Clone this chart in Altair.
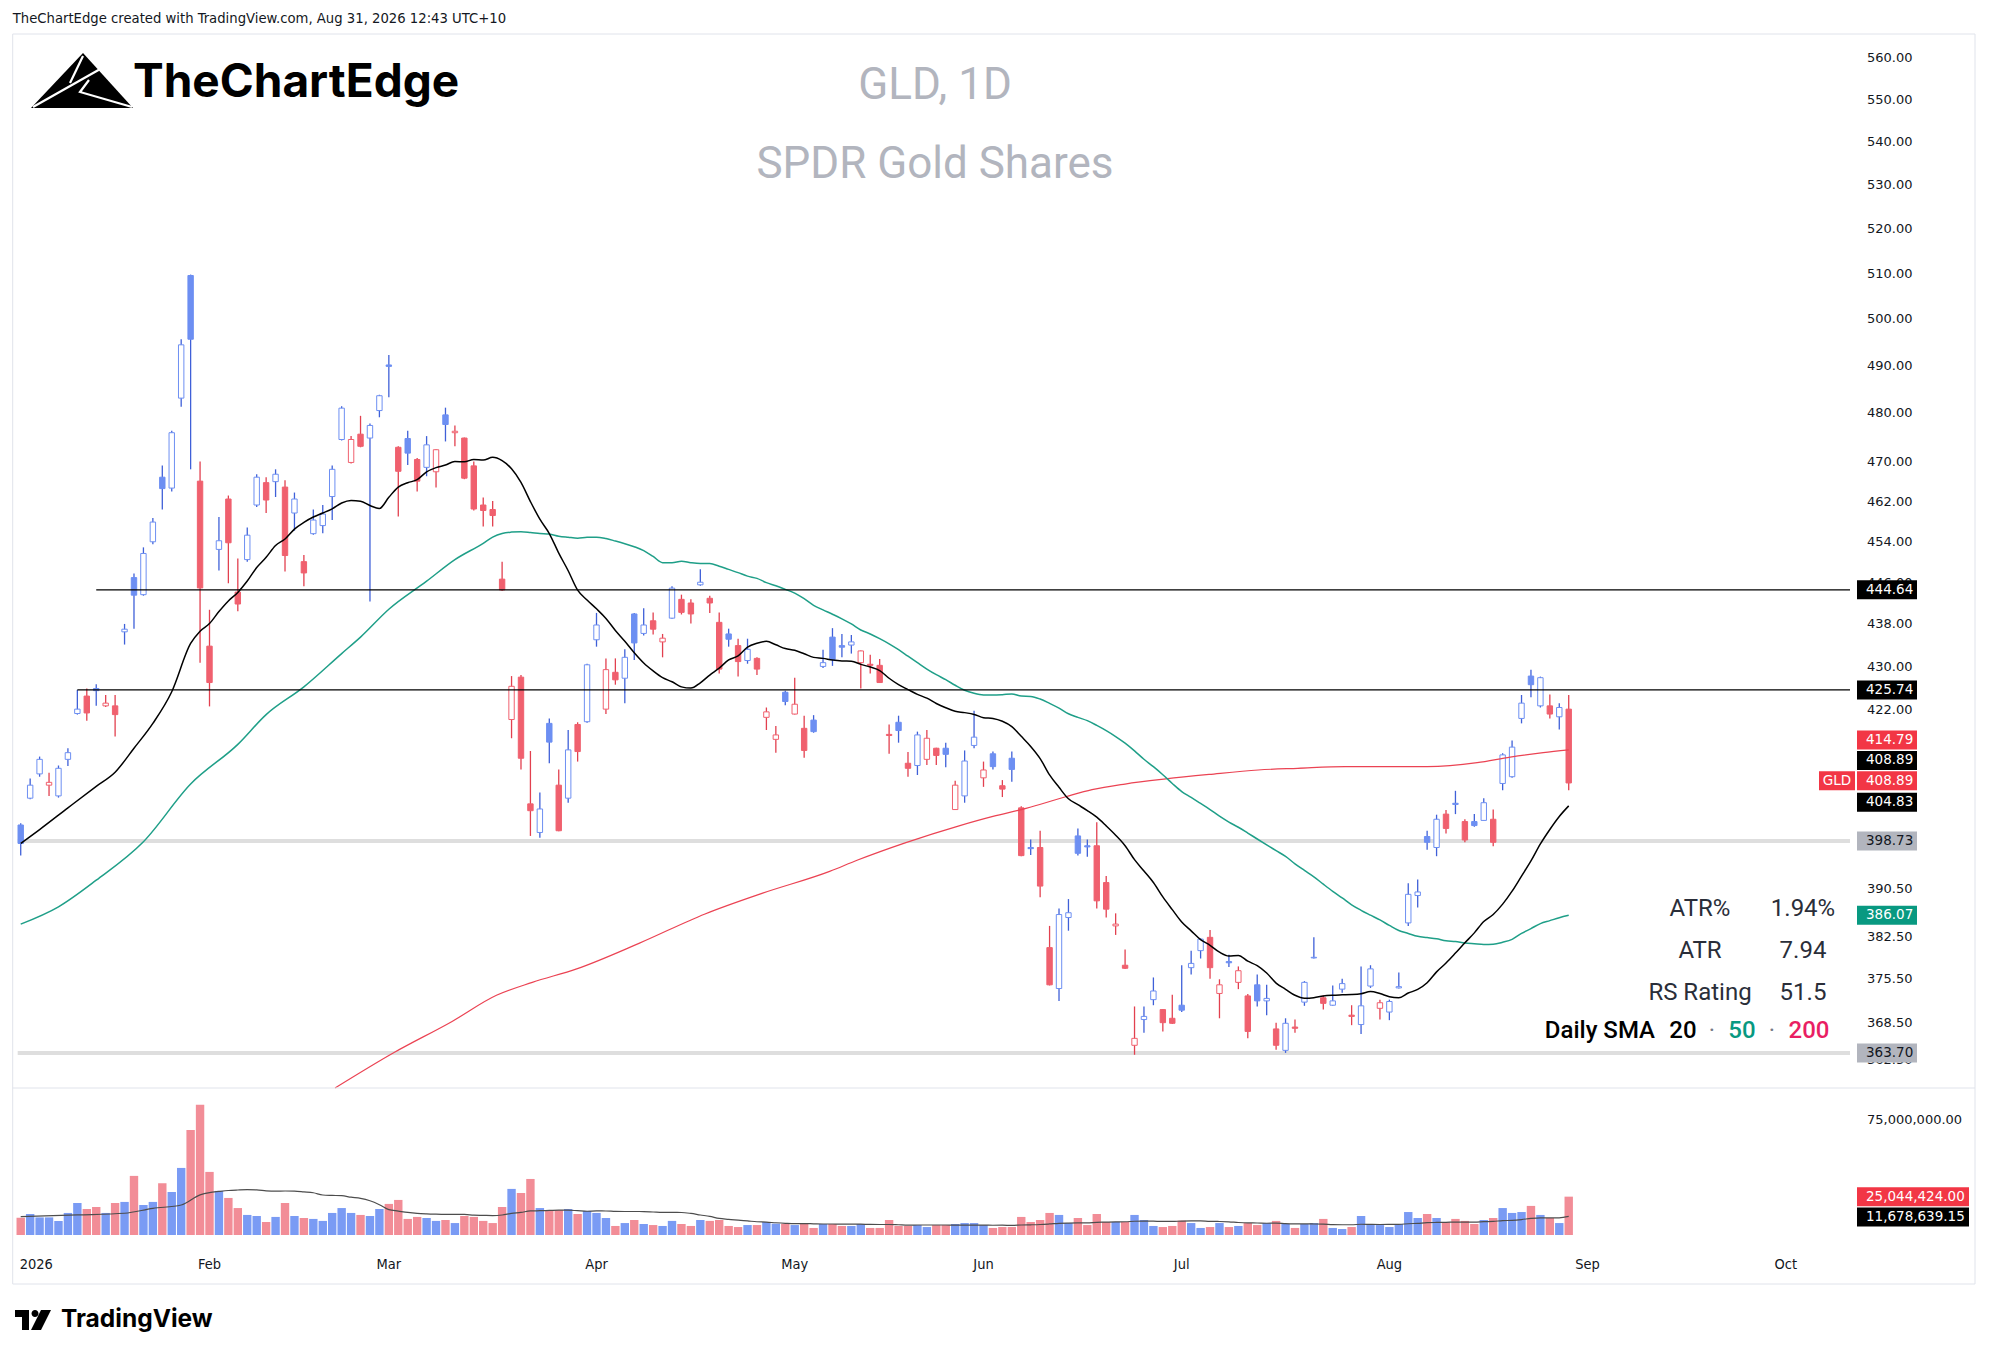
import altair as alt
import pandas as pd
import numpy as np

# ---------------- data ----------------
opens = [401.5,406.2,410.5,408.5,406.6,413.1,421.4,424.6,426.0,422.8,422.8,436.6,447.0,443.7,454.0,466.9,464.7,483.2,509.6,466.1,
         433.9,452.5,462.5,444.2,450.5,461.3,465.8,466.0,464.9,459.7,450.1,455.6,457.2,463.0,474.6,469.9,475.7,474.9,480.6,490.2,
         473.0,474.8,470.5,468.9,468.0,479.7,476.0,474.9,469.2,461.3,460.4,446.7,420.3,428.1,405.2,400.2,419.6,408.5,406.2,419.4,
         419.9,435.1,422.2,429.0,427.9,440.0,436.3,438.7,434.7,439.2,442.8,442.1,445.6,443.0,438.4,436.2,434.0,431.2,431.6,420.7,
         416.7,425.3,421.3,418.7,420.2,430.1,435.6,434.0,434.1,430.8,430.5,430.3,417.6,419.8,412.4,412.0,413.1,415.1,415.1,404.2,
         406.6,415.6,409.8,414.1,408.4,413.3,404.5,397.6,397.6,380.7,374.0,385.7,399.6,397.9,397.9,391.6,384.3,377.8,364.9,369.0,
         372.2,370.6,369.2,371.3,377.4,380.2,382.4,373.2,378.4,375.0,372.8,374.6,372.0,367.5,364.1,367.8,371.8,379.0,372.5,371.3,
         373.9,369.7,368.2,374.4,370.8,370.2,374.1,384.8,389.4,399.5,397.6,403.4,405.3,402.1,402.1,402.3,402.5,408.8,410.0,420.5,
         428.3,422.8,422.8,420.8,422.2]
highs = [401.8,409.7,413.6,410.7,412.0,415.1,425.74,426.0,426.8,424.8,424.8,438.1,447.8,452.9,458.7,469.3,476.4,495.7,509.8,470.1,
         440.8,458.9,463.2,450.7,456.8,467.5,466.9,468.5,466.3,463.8,451.4,460.4,461.3,469.3,481.5,475.3,479.5,477.9,483.9,492.3,
         473.2,476.4,470.8,475.3,472.6,481.2,477.5,475.0,470.1,462.8,462.1,450.1,428.3,428.5,414.6,407.2,420.5,411.3,418.4,419.8,
         430.6,440.2,431.6,431.6,433.3,440.2,441.1,440.3,436.2,445.3,443.7,442.8,448.6,443.5,440.3,437.2,435.3,435.3,431.8,422.5,
         419.1,425.6,428.0,421.0,421.1,433.2,437.3,436.2,436.0,433.1,432.3,431.5,419.4,421.0,414.4,418.1,418.4,415.2,416.1,409.3,
         414.7,421.9,412.7,414.5,409.4,414.5,404.8,399.0,400.5,384.3,387.2,388.8,400.9,399.0,402.0,392.7,386.4,380.4,371.1,371.1,
         375.8,370.7,373.0,377.8,380.2,382.2,383.6,375.5,379.5,377.6,373.1,376.3,374.6,368.5,369.2,369.0,375.2,382.4,372.9,374.5,
         375.6,371.3,377.6,377.8,372.2,372.2,376.6,391.5,392.1,400.5,403.3,404.1,407.5,402.5,403.4,406.2,404.2,414.2,416.5,424.8,
         429.5,428.2,424.9,423.3,424.8]
lows = [396.2,406.0,410.0,406.6,406.3,411.9,421.2,420.1,422.8,422.6,417.2,434.2,437.2,443.5,453.5,460.4,464.0,481.4,468.5,430.8,
        422.7,448.4,445.9,440.5,450.1,460.9,459.7,462.9,448.2,456.2,445.3,455.4,455.7,458.3,474.4,469.7,473.0,442.4,479.2,483.4,
        459.0,469.4,464.0,467.1,464.8,474.2,473.2,466.5,460.2,457.0,457.0,444.4,416.9,411.3,399.6,399.3,412.4,400.4,405.4,412.7,
        419.7,433.8,421.3,426.7,423.3,431.3,435.9,436.1,431.8,439.1,439.9,438.2,445.4,440.2,428.8,433.8,428.2,430.6,428.5,418.4,
        414.3,422.9,421.2,413.4,417.9,429.8,430.2,431.8,432.5,426.0,428.8,427.0,414.1,416.1,410.0,410.3,412.1,412.1,411.7,404.1,
        405.4,415.1,408.2,411.3,406.4,409.1,396.1,396.3,389.1,374.5,372.0,383.5,396.2,396.0,387.2,385.7,382.8,377.2,363.4,366.9,
        371.3,367.1,368.3,370.2,376.3,378.9,375.6,369.2,377.5,373.9,366.0,371.1,369.7,364.2,363.7,366.9,371.2,378.9,370.6,371.2,
        373.3,368.1,366.7,374.1,369.0,368.9,374.0,384.3,387.4,397.2,396.1,400.0,403.4,398.5,401.2,402.3,397.8,407.6,409.8,419.6,
        424.4,422.5,420.5,418.5,407.6]
closes = [398.3,408.5,413.1,409.0,411.5,414.3,422.2,421.5,425.6,423.3,421.2,437.1,443.6,451.7,457.9,464.6,476.0,494.5,495.7,445.0,
          427.1,454.2,453.8,441.9,455.3,466.9,462.3,467.5,451.3,462.5,447.9,458.3,459.5,468.5,481.1,474.6,473.2,477.5,483.7,489.9,
          468.1,471.8,466.1,473.5,472.5,477.7,476.3,466.7,460.5,460.2,459.2,444.6,426.4,413.3,404.0,404.3,416.2,400.5,414.8,414.5,
          430.4,437.9,429.5,427.6,431.8,434.5,437.9,437.1,435.4,444.96,440.3,440.0,446.1,442.1,429.6,435.2,431.0,433.3,429.6,421.7,
          417.5,423.6,423.1,414.7,418.1,430.8,431.4,433.7,434.7,433.0,430.3,427.1,417.4,418.3,411.5,417.5,416.9,413.8,414.0,408.5,
          412.8,417.1,411.2,411.8,407.8,411.3,396.2,397.4,391.0,374.6,386.2,386.5,396.6,397.7,388.5,387.1,384.6,377.3,366.0,369.5,
          373.6,368.5,368.4,370.5,378.1,382.1,377.4,374.6,378.2,376.9,367.1,372.0,372.4,364.9,368.4,367.6,375.0,379.1,371.6,372.0,
          374.8,369.5,371.2,377.2,371.7,371.9,374.3,389.6,390.0,398.5,402.5,400.9,405.1,398.9,401.4,405.4,398.5,413.9,415.3,423.3,
          426.7,428.0,421.3,422.5,408.89]
volumes_m = [11.3,13.7,11.5,11.5,9.2,14.4,20.9,17.0,18.3,14.4,20.9,21.6,38.6,19.6,21.6,33.8,28.1,43.8,68.6,85.0,
             41.2,28.8,24.2,17.6,13.1,12.4,8.5,11.8,20.9,12.4,11.1,10.5,9.2,14.4,17.6,14.4,13.1,12.4,17.0,20.3,
             22.9,10.5,11.8,11.1,9.2,9.8,7.8,12.4,11.8,9.2,7.8,18.3,30.1,27.5,36.6,17.6,16.3,16.3,17.0,13.7,
             15.7,14.4,11.1,5.9,7.8,9.8,7.2,6.5,5.9,9.2,7.2,5.9,9.8,9.2,9.8,5.9,5.2,6.5,6.5,8.5,
             7.4,7.4,6.5,7.2,4.6,7.2,7.2,5.9,5.9,7.2,4.6,4.6,9.8,5.9,5.9,6.5,5.2,6.5,6.5,7.2,
             7.8,7.8,6.5,4.6,5.2,5.2,11.8,8.5,9.8,14.4,13.1,7.8,11.1,6.5,13.7,8.5,8.5,8.5,13.1,9.8,
             5.9,5.2,5.9,9.4,7.8,4.6,5.2,7.8,5.2,5.9,7.8,6.5,7.8,9.2,7.2,4.6,7.2,7.8,10.5,4.6,
             3.9,5.2,12.4,7.2,6.5,5.2,7.2,15.0,11.1,13.7,11.1,8.5,10.5,9.2,7.2,9.8,11.1,17.6,14.4,15.0,
             19.0,13.1,11.1,7.8,25.044424]

# moving-average points read where they cannot be computed from the visible bars
sma20_early_idx = [0, 2, 5, 8, 10, 12, 14, 16, 18]
sma20_early_val = [398.3, 400.7, 404.5, 408.3, 410.8, 415.1, 419.6, 425.4, 434.4]
sma50_early_idx = [0, 4, 8, 13, 18, 23, 26, 30, 34, 36, 39, 43, 46]
sma50_early_val = [384.6, 387.5, 392.0, 398.6, 408.7, 415.8, 421.2, 426.3, 432.5, 435.6, 440.9, 446.3, 450.5]
sma200_idx = [33.3, 39.6, 45.7, 50.4, 54.2, 58.9, 65.5, 72.5, 78.6, 85.7, 88.6, 93.7, 99.5, 103.0, 106.5, 110.8,
              113.5, 117.0, 121.3, 125.9, 131.1, 135.3, 140.3, 149.0, 154.3, 157.8, 161.3, 164.0]
sma200_val = [358.2, 363.8, 368.7, 372.9, 375.0, 377.2, 381.4, 386.3, 389.8, 393.5, 395.4, 398.4, 401.4, 403.0, 404.4,
              406.5, 407.7, 408.7, 409.6, 410.4, 411.2, 411.5, 411.8, 411.8, 412.5, 413.5, 414.3, 414.79]
volma_early_idx = [0, 6, 11, 14, 17]
volma_early_val = [12.0, 13.1, 14.2, 17.4, 19.6]

month_ticks = [0, 20, 39, 61, 82, 102, 123, 145, 166, 187]
month_labels = ['2026', 'Feb', 'Mar', 'Apr', 'May', 'Jun', 'Jul', 'Aug', 'Sep', 'Oct']
price_ticks = [560, 550, 540, 530, 520, 510, 500, 490, 480, 470, 462, 454, 446, 438, 430, 422,
               390.5, 382.5, 375.5, 368.5, 362.5]
vol_ticks = [75000000]

black_levels = [444.64, 425.74]
black_level_start = [8, 6]
gray_levels = [398.73, 363.70]

box_text = ['444.64', '425.74', '414.79', '408.89', '408.89', '404.83', '398.73', '386.07', '363.70']
box_pos = [444.64, 425.74, 416.6, 412.9, 409.3, 405.5, 398.73, 386.07, 363.70]
box_kind = ['black', 'black', 'red', 'black', 'red', 'black', 'gray', 'green', 'gray']
vbox_text = ['25,044,424.00', '11,678,639.15']
vbox_val = [25044424.0, 11678639.15]
vbox_kind = ['red', 'black']

stats_labels = ['ATR%', 'ATR', 'RS Rating']
stats_values = ['1.94%', '7.94', '51.5']

# ---------------- styling ----------------
BLUE, BLUE_W = '#6d8ff2', '#3f60d8'
RED, RED_W = '#f0606e', '#e2404f'
VBLUE, VRED = '#7a9bf4', '#f28d97'
BOXBG = {'black': '#000000', 'red': '#f23645', 'green': '#089981', 'gray': '#b2b5be'}
BOXFG = {'black': '#ffffff', 'red': '#ffffff', 'green': '#ffffff', 'gray': '#131722'}
W, H = 1973, 1342
XMIN, XMAX = -0.32, 193.8

n = len(closes)
df = pd.DataFrame({'i': np.arange(n), 'o': opens, 'h': highs, 'l': lows, 'c': closes,
                   'v': np.array(volumes_m) * 1e6})
up = (df['c'] >= df['c'].shift(1)).to_numpy()
up[0] = True
df['stroke'] = np.where(up, BLUE, RED)
df['wick'] = np.where(up, BLUE_W, RED_W)
df['fill'] = np.where(df['c'] > df['o'], '#ffffff', df['stroke'])
df['vcol'] = np.where(df['c'] >= df['o'], VBLUE, VRED)

s20 = df['c'].rolling(20).mean()
s50 = df['c'].rolling(50).mean()
vma = df['v'].rolling(20).mean()
sma20 = pd.concat([pd.DataFrame({'i': sma20_early_idx, 'p': sma20_early_val}),
                   pd.DataFrame({'i': df['i'][19:], 'p': s20[19:]})])
sma50 = pd.concat([pd.DataFrame({'i': sma50_early_idx, 'p': sma50_early_val}),
                   pd.DataFrame({'i': df['i'][49:], 'p': s50[49:]})])
sma200 = pd.DataFrame({'i': sma200_idx, 'p': sma200_val})
volma = pd.concat([pd.DataFrame({'i': volma_early_idx, 'v': np.array(volma_early_val) * 1e6}),
                   pd.DataFrame({'i': df['i'][19:], 'v': vma[19:]})])

lv_black = pd.DataFrame({'p': black_levels, 'x0': black_level_start, 'x1': [XMAX] * len(black_levels)})
lv_gray = pd.DataFrame({'p': gray_levels, 'x0': [XMIN] * len(gray_levels), 'x1': [XMAX] * len(gray_levels)})
boxes = pd.DataFrame({'t': box_text, 'pos': box_pos,
                      'bg': [BOXBG[k] for k in box_kind], 'fg': [BOXFG[k] for k in box_kind]})
gld = pd.DataFrame({'t': ['GLD'], 'pos': [box_pos[4]]})
vboxes = pd.DataFrame({'t': vbox_text, 'v': vbox_val,
                       'bg': [BOXBG[k] for k in vbox_kind], 'fg': [BOXFG[k] for k in vbox_kind]})
pticks = pd.DataFrame({'p': price_ticks, 't': [f'{v:.2f}' for v in price_ticks]})
vticks = pd.DataFrame({'v': vol_ticks, 't': [f'{v:,.2f}' for v in vol_ticks]})
mticks = pd.DataFrame({'i': month_ticks[1:], 't': month_labels[1:]})
yticks = pd.DataFrame({'i': month_ticks[:1], 't': month_labels[:1]})
one = pd.DataFrame({'a': [0]})

# ---------------- scales ----------------
xs = alt.Scale(domain=[XMIN, XMAX], range=[4.7, 1847], nice=False, zero=False)
ps = alt.Scale(type='log', domain=[358.2, 565.9], range=[1080, 26], nice=False, zero=False)
vs = alt.Scale(domain=[0, 96e6], range=[1227, 1080], nice=False, zero=False)

X = lambda f: alt.X(f, scale=xs, axis=None)
PY = lambda f: alt.Y(f, scale=ps, axis=None)
VY = lambda f: alt.Y(f, scale=vs, axis=None)

# ---------------- price pane ----------------
ptick_txt = alt.Chart(pticks).mark_text(align='left', baseline='middle', font='DejaVu Sans', fontSize=13,
                                        color='#131722').encode(x=alt.value(1859), y=PY('p:Q'), text='t:N')
mtick_txt = alt.Chart(mticks).mark_text(align='center', baseline='middle', font='DejaVu Sans Condensed',
                                        fontSize=14.5, color='#131722').encode(
    x=X('i:Q'), y=alt.value(1257), text='t:N')
ytick_txt = alt.Chart(yticks).mark_text(align='left', baseline='middle', font='DejaVu Sans Condensed',
                                        fontSize=14.5, color='#131722', dx=-1).encode(
    x=X('i:Q'), y=alt.value(1257), text='t:N')
gray_rules = alt.Chart(lv_gray).mark_rule(color='#dedede', strokeWidth=4).encode(
    x=X('x0:Q'), x2='x1:Q', y=PY('p:Q'))
wicks = alt.Chart(df).mark_rule(strokeWidth=1.3).encode(
    x=X('i:Q'), y=PY('l:Q'), y2='h:Q', color=alt.Color('wick:N', scale=None))
bodies = alt.Chart(df).mark_bar(width=5.4, strokeWidth=1).encode(
    x=X('i:Q'), y=PY('o:Q'), y2='c:Q',
    fill=alt.Fill('fill:N', scale=None), stroke=alt.Stroke('stroke:N', scale=None))
l200 = alt.Chart(sma200).mark_line(color='#eb4353', strokeWidth=1.2, interpolate='monotone').encode(
    x=X('i:Q'), y=PY('p:Q'))
l50 = alt.Chart(sma50).mark_line(color='#1f9f88', strokeWidth=1.5, interpolate='monotone').encode(
    x=X('i:Q'), y=PY('p:Q'))
l20 = alt.Chart(sma20).mark_line(color='#000000', strokeWidth=1.5, interpolate='monotone').encode(
    x=X('i:Q'), y=PY('p:Q'))
black_rules = alt.Chart(lv_black).mark_rule(color='#000000', strokeWidth=1.3).encode(
    x=X('x0:Q'), x2='x1:Q', y=PY('p:Q'))
box_marks = alt.Chart(boxes).mark_point(shape='M-30,-9.5H30V9.5H-30Z', size=4, filled=True, opacity=1,
                                        strokeWidth=0).encode(
    x=alt.value(1879), y=PY('pos:Q'), fill=alt.Fill('bg:N', scale=None))
box_txt = alt.Chart(boxes).mark_text(align='left', baseline='middle', font='DejaVu Sans', fontSize=13.5).encode(
    x=alt.value(1858), y=PY('pos:Q'), text='t:N', color=alt.Color('fg:N', scale=None))
gld_box = alt.Chart(gld).mark_point(shape='M-18,-9.5H18V9.5H-18Z', size=4, filled=True, opacity=1,
                                    strokeWidth=0, fill='#f23645').encode(x=alt.value(1829), y=PY('pos:Q'))
gld_txt = alt.Chart(gld).mark_text(align='center', baseline='middle', font='DejaVu Sans', fontSize=13.5,
                                   color='#ffffff').encode(x=alt.value(1829), y=PY('pos:Q'), text='t:N')

price = alt.layer(ptick_txt, gray_rules, wicks, bodies, l200, l50, l20, black_rules,
                  box_marks, box_txt, gld_box, gld_txt, mtick_txt, ytick_txt)

# ---------------- volume pane ----------------
vtick_txt = alt.Chart(vticks).mark_text(align='left', baseline='middle', font='DejaVu Sans', fontSize=13,
                                        color='#131722').encode(x=alt.value(1859), y=VY('v:Q'), text='t:N')
vbars = alt.Chart(df).mark_bar(width=8.4).encode(
    x=X('i:Q'), y=VY('v:Q'), color=alt.Color('vcol:N', scale=None))
vline = alt.Chart(volma).mark_line(color='#4d4d4d', strokeWidth=1.2, interpolate='monotone').encode(
    x=X('i:Q'), y=VY('v:Q'))
vbox_marks = alt.Chart(vboxes).mark_point(shape='M-56,-9.5H56V9.5H-56Z', size=4, filled=True, opacity=1,
                                          strokeWidth=0).encode(
    x=alt.value(1905), y=VY('v:Q'), fill=alt.Fill('bg:N', scale=None))
vbox_txt = alt.Chart(vboxes).mark_text(align='left', baseline='middle', font='DejaVu Sans', fontSize=13.5).encode(
    x=alt.value(1858), y=VY('v:Q'), text='t:N', color=alt.Color('fg:N', scale=None))
volume = alt.layer(vtick_txt, vbars, vline, vbox_marks, vbox_txt)


# ---------------- decorations ----------------
def txt(s, x, y, size, color='#131722', font='Roboto', align='left', weight='normal', baseline='middle'):
    return alt.Chart(one).mark_text(text=s, align=align, baseline=baseline, font=font, fontSize=size,
                                    color=color, fontWeight=weight).encode(x=alt.value(x), y=alt.value(y))


frame = alt.Chart(one).mark_rect(fillOpacity=0, stroke='#e0e3eb', strokeWidth=1).encode(
    x=alt.value(4.7), x2=alt.value(1967), y=alt.value(26), y2=alt.value(1276))
sep = alt.Chart(one).mark_rule(color='#e0e3eb', strokeWidth=1).encode(
    x=alt.value(4.7), x2=alt.value(1967), y=alt.value(1080))

logo_fill = alt.Chart(one).mark_point(shape='M1,-26L51,29H-51Z', size=4, filled=True, opacity=1,
                                      fill='#000000', strokeWidth=0).encode(x=alt.value(74), y=alt.value(71))
logo_cut = alt.Chart(one).mark_point(shape='M1,-23L-12,4M-49,28L20,-11M7,1L-2,13L50,28', size=4,
                                     filled=False, opacity=1, stroke='#ffffff', strokeWidth=2.2).encode(
    x=alt.value(74), y=alt.value(71))
tv_icon = alt.Chart(one).mark_point(
    shape='M-18,-10H-4V10H-11V-3H-18Z M-1.5,-6.5A3.5,3.5 0 1,0 5.5,-6.5A3.5,3.5 0 1,0 -1.5,-6.5Z M8,-10H18L8,10H-2Z',
    size=4, filled=True, opacity=1, fill='#000000', strokeWidth=0).encode(x=alt.value(25), y=alt.value(1312))

decos = [
    frame, sep,
    txt('TheChartEdge created with TradingView.com, Aug 31, 2026 12:43 UTC+10', 4.7, 11, 14.7,
        font='DejaVu Sans Condensed'),
    logo_fill, logo_cut,
    txt('TheChartEdge', 125, 89, 46, color='#000000', font='Inter', weight='bold', baseline='alphabetic'),
    txt('GLD, 1D', 927, 78, 44, color='#b2b5be', align='center'),
    txt('SPDR Gold Shares', 927, 157, 44, color='#b2b5be', align='center'),
    tv_icon,
    txt('TradingView', 53, 1312, 24.5, color='#000000', font='Inter', weight='bold'),
]
for k, (lab, val) in enumerate(zip(stats_labels, stats_values)):
    yy = 901 + 42 * k
    decos.append(txt(lab, 1692, yy, 24, color='#2a2e39', align='center'))
    decos.append(txt(val, 1795, yy, 24, color='#2a2e39', align='center'))
decos += [
    txt('Daily SMA', 1647, 1023, 24, color='#000000', align='right', weight=500),
    txt('20', 1675, 1023, 24, color='#000000', align='center', weight=500),
    txt('·', 1704, 1023, 24, color='#787b86', align='center'),
    txt('50', 1734, 1023, 24, color='#089981', align='center', weight=500),
    txt('·', 1764, 1023, 24, color='#787b86', align='center'),
    txt('200', 1801, 1023, 24, color='#e91e63', align='center', weight=500),
]

chart = alt.layer(price, volume, *decos).resolve_scale(y='independent').properties(
    width=W, height=H, autosize=alt.AutoSizeParams(type='none'), padding=0, background='#ffffff'
).configure_view(stroke=None)

chart.save('out.html', embed_options={'renderer': 'svg', 'actions': False})
